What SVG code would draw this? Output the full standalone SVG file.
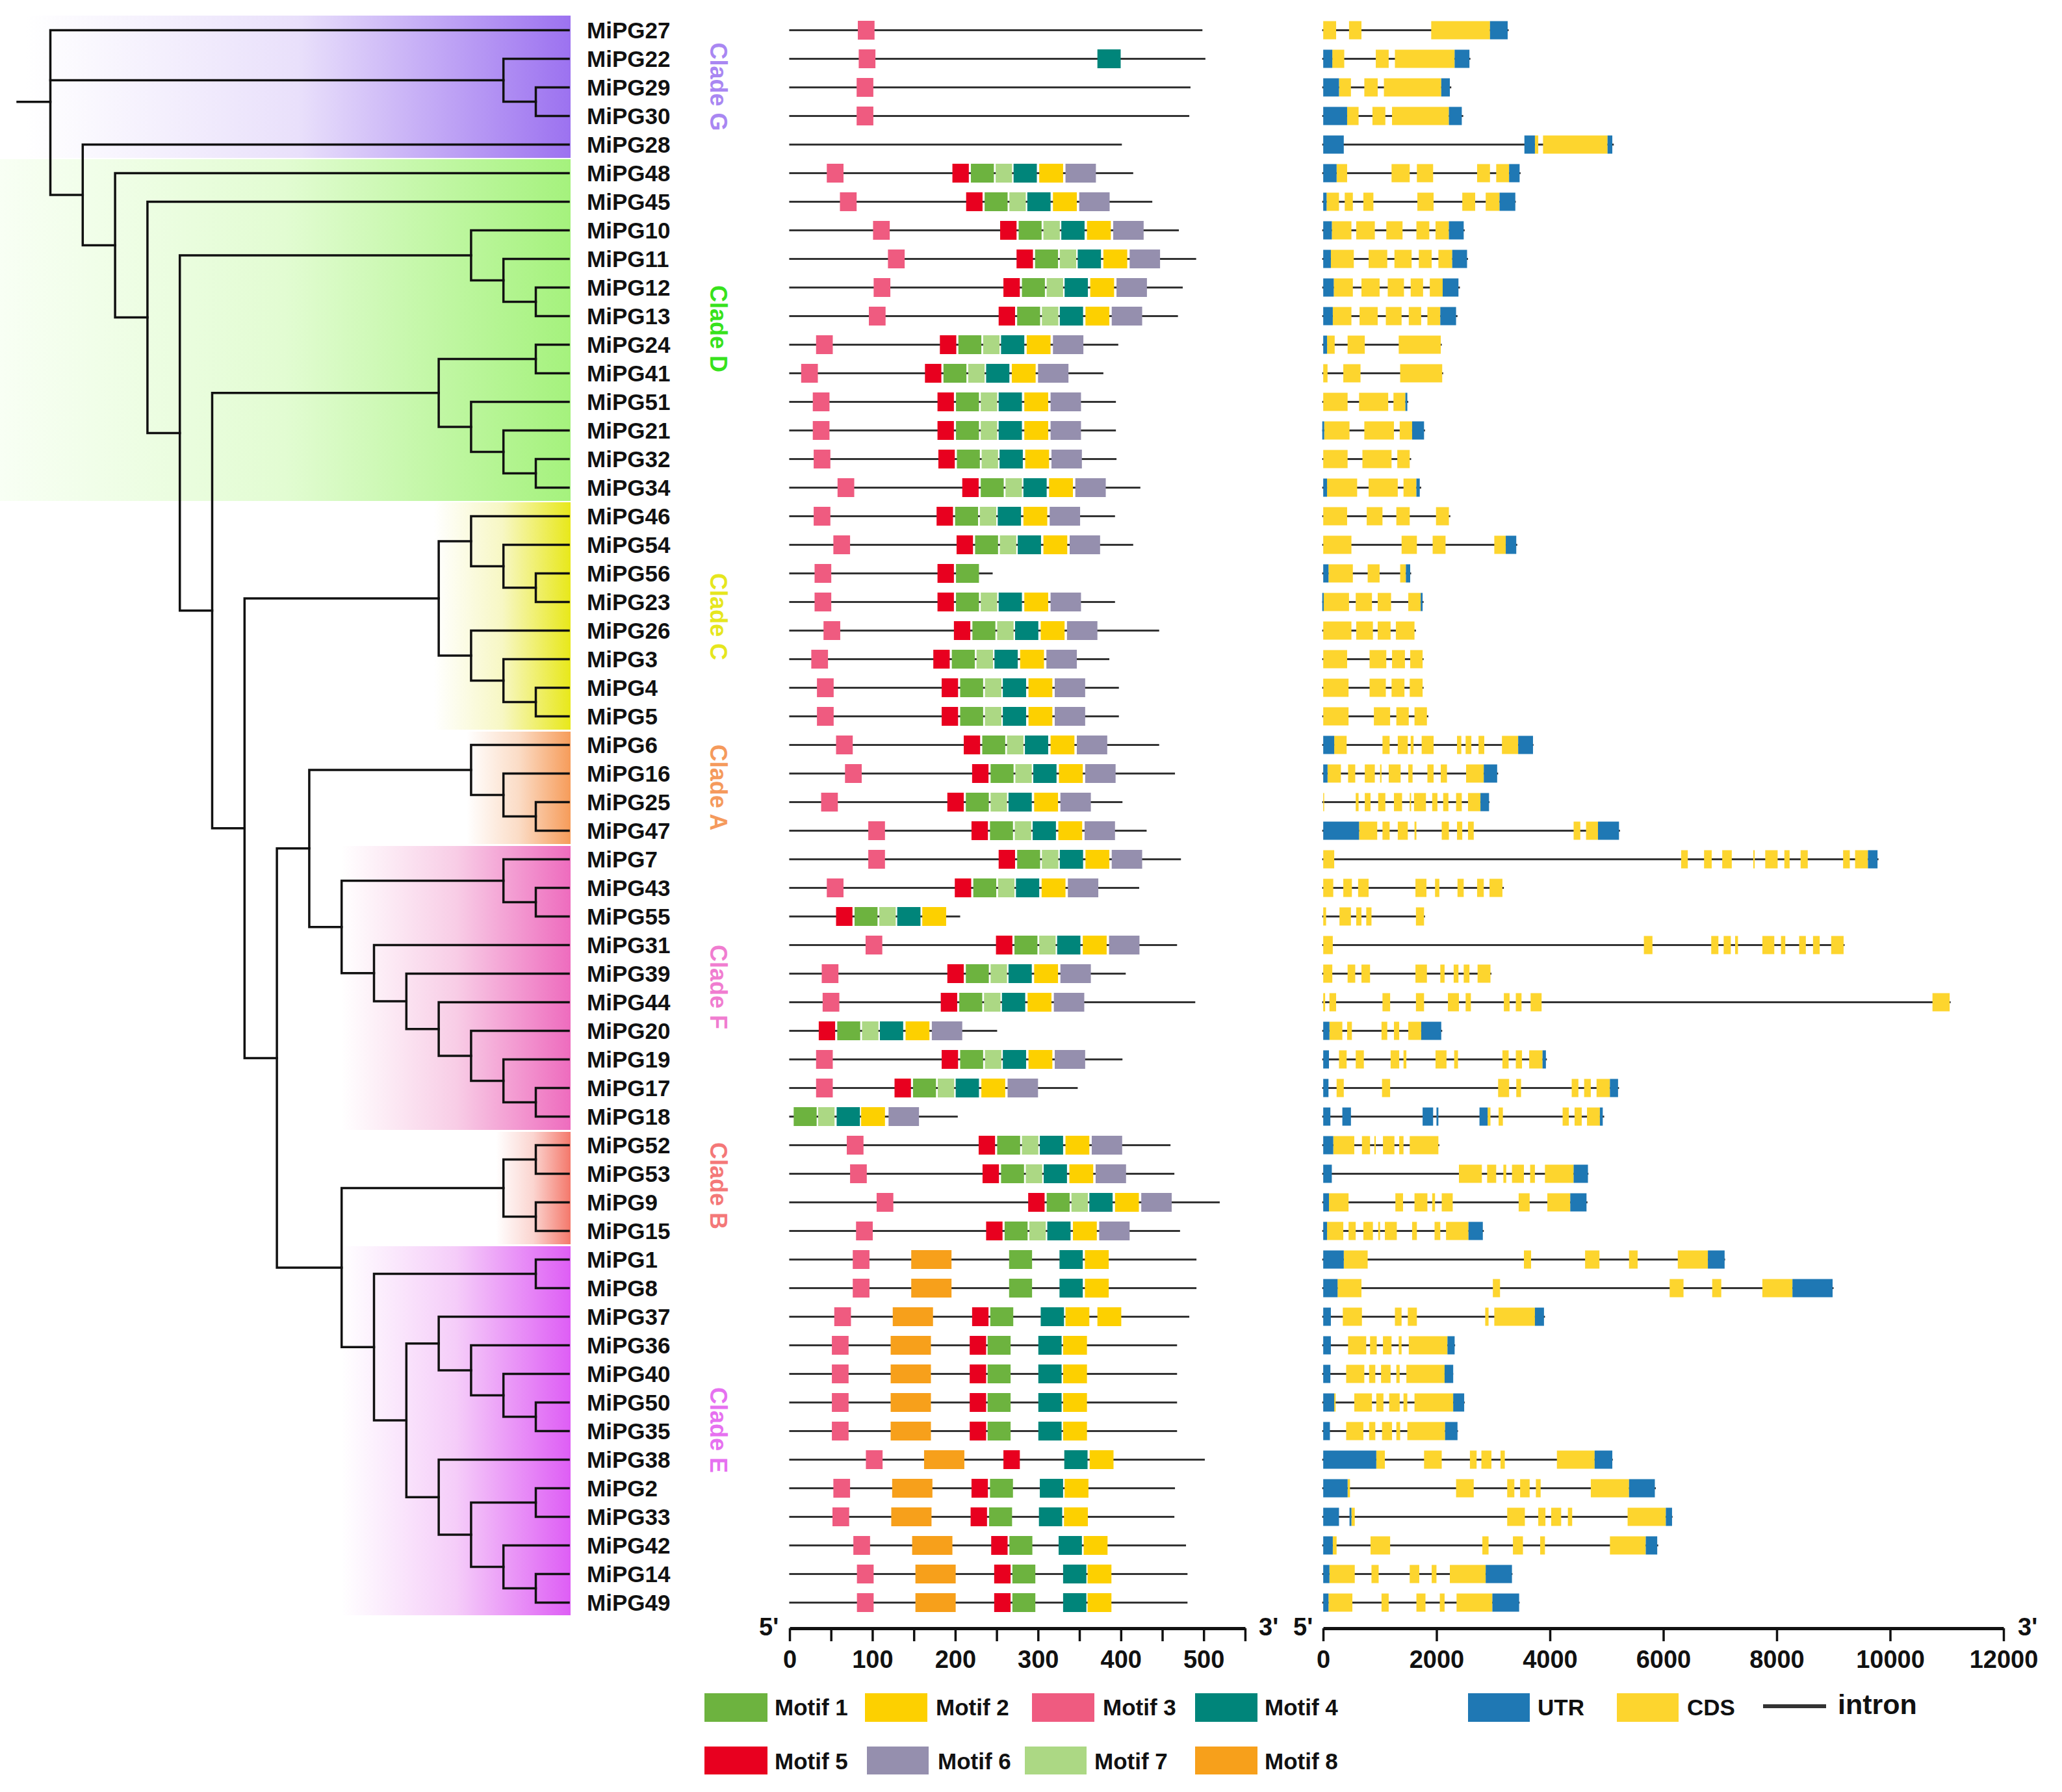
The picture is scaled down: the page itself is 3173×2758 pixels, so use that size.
<svg xmlns="http://www.w3.org/2000/svg" xmlns:xlink="http://www.w3.org/1999/xlink" width="3173" height="2758" viewBox="0 0 3173 2758">
<style>
.tr{fill:none;stroke:#111;stroke-width:3.5;stroke-linecap:square}
.nm{font-family:'Liberation Sans',Arial,sans-serif;font-weight:bold;font-size:35px;fill:#111}
.cl{font-family:'Liberation Sans',Arial,sans-serif;font-weight:bold;font-size:36px;text-anchor:middle}
.bb{stroke:#333;stroke-width:3.2;fill:none}
.gu{stroke:#1f78b4;stroke-width:28;fill:none}
.gc{stroke:#fdd52e;stroke-width:28;fill:none}
.ax{stroke:#111;fill:none}
.tk{font-family:'Liberation Sans',Arial,sans-serif;font-weight:bold;font-size:38px;text-anchor:middle;fill:#111}
.pr{font-family:'Liberation Sans',Arial,sans-serif;font-weight:bold;font-size:38px;fill:#111}
.lg{font-family:'Liberation Sans',Arial,sans-serif;font-weight:bold;font-size:35px;fill:#111}
.lgi{font-family:'Liberation Sans',Arial,sans-serif;font-weight:bold;font-size:43px;fill:#111}
</style>
<defs>
<linearGradient id="gG"><stop offset="0" stop-color="#ffffff"/><stop offset="0.5" stop-color="#e9e0fb"/><stop offset="1" stop-color="#9c72f0"/></linearGradient>
<linearGradient id="gD"><stop offset="0" stop-color="#f8fff4"/><stop offset="0.5" stop-color="#e2fcd2"/><stop offset="1" stop-color="#a5f27d"/></linearGradient>
<linearGradient id="gC"><stop offset="0" stop-color="#ffffff"/><stop offset="0.5" stop-color="#f7f7c4"/><stop offset="1" stop-color="#e8e81a"/></linearGradient>
<linearGradient id="gA"><stop offset="0" stop-color="#ffffff"/><stop offset="0.5" stop-color="#fbdcc6"/><stop offset="1" stop-color="#f69c5a"/></linearGradient>
<linearGradient id="gF"><stop offset="0" stop-color="#ffffff"/><stop offset="0.5" stop-color="#f8cde6"/><stop offset="1" stop-color="#ee6cbe"/></linearGradient>
<linearGradient id="gB"><stop offset="0" stop-color="#ffffff"/><stop offset="0.5" stop-color="#fbd5d0"/><stop offset="1" stop-color="#f4786b"/></linearGradient>
<linearGradient id="gE"><stop offset="0" stop-color="#ffffff"/><stop offset="0.5" stop-color="#f5cdf9"/><stop offset="1" stop-color="#de5ef5"/></linearGradient>
<rect id="m1" y="-14.5" width="77" height="29" fill="#6db33f"/>
<rect id="m2" y="-14.5" width="80" height="29" fill="#fdd000"/>
<rect id="m3" y="-14.5" width="56" height="29" fill="#ef5b80"/>
<rect id="m4" y="-14.5" width="78" height="29" fill="#00857a"/>
<rect id="m5" y="-14.5" width="55" height="29" fill="#e8001f"/>
<rect id="m6" y="-14.5" width="102" height="29" fill="#958fae"/>
<rect id="m7" y="-14.5" width="55" height="29" fill="#acd884"/>
<rect id="m8" y="-14.5" width="135" height="29" fill="#f7a01b"/>
<g id="blk"><use href="#m5"/><use href="#m1" x="62"/><use href="#m7" x="145"/><use href="#m4" x="205"/><use href="#m2" x="291"/><use href="#m6" x="379"/></g>
</defs>
<rect width="3173" height="2758" fill="#ffffff"/>
<g id="clade-bands">
<rect x="40" y="24" width="838" height="219" fill="url(#gG)"/>
<rect x="0" y="245" width="878" height="526" fill="url(#gD)"/>
<rect x="668" y="773" width="210" height="350" fill="url(#gC)"/>
<rect x="718" y="1126" width="160" height="173" fill="url(#gA)"/>
<rect x="525" y="1302" width="353" height="437" fill="url(#gF)"/>
<rect x="763" y="1742" width="115" height="173" fill="url(#gB)"/>
<rect x="525" y="1918" width="353" height="568" fill="url(#gE)"/>
</g>
<g id="connectors" class="tr">
<path d="M27 156.7H77.5"/><path d="M875 46.5H77.5V300H127.3"/><path d="M77.5 123.5H774.7"/>
<path d="M875 90.5H774.7V156.5H824.5"/><path d="M875 134.5H824.5V178.5H875"/>
<path d="M875 222.5H127.3V377.5H177.1"/><path d="M875 266.5H177.1V488.4H226.9"/><path d="M875 310.5H226.9V666.4H276.7"/>
<path d="M724.9 393H276.7V939.7H326.5"/><path d="M875 354.5H724.9V431.5H774.7"/><path d="M875 398.5H774.7V464.5H824.5"/><path d="M875 442.5H824.5V486.5H875"/>
<path d="M675.1 604.8H326.5V1274.7H376.3"/><path d="M824.5 552.5H675.1V657H724.9"/><path d="M875 530.5H824.5V574.5H875"/><path d="M875 618.5H724.9V695.5H774.7"/><path d="M875 662.5H774.7V728.5H824.5"/><path d="M875 706.5H824.5V750.5H875"/>
<path d="M675.1 921H376.3V1628.4H426.1"/><path d="M724.9 833H675.1V1009H724.9"/><path d="M875 794.5H724.9V871.5H774.7"/><path d="M875 838.5H774.7V904.5H824.5"/><path d="M875 882.5H824.5V926.5H875"/><path d="M875 970.5H724.9V1047.5H774.7"/><path d="M875 1014.5H774.7V1080.5H824.5"/><path d="M875 1058.5H824.5V1102.5H875"/>
<path d="M475.9 1305.8H426.1V1950.9H525.7"/><path d="M724.9 1185H475.9V1426.7H525.7"/><path d="M875 1146.5H724.9V1223.5H774.7"/><path d="M875 1190.5H774.7V1256.5H824.5"/><path d="M875 1234.5H824.5V1278.5H875"/>
<path d="M774.7 1355.5H525.7V1497.8H575.5"/><path d="M875 1322.5H774.7V1388.5H824.5"/><path d="M875 1366.5H824.5V1410.5H875"/><path d="M875 1454.5H575.5V1541.1H625.3"/><path d="M875 1498.5H625.3V1583.8H675.1"/><path d="M875 1542.5H675.1V1625H724.9"/><path d="M875 1586.5H724.9V1663.5H774.7"/><path d="M875 1630.5H774.7V1696.5H824.5"/><path d="M875 1674.5H824.5V1718.5H875"/>
<path d="M774.7 1828.5H525.7V2073.3H575.5"/><path d="M824.5 1784.5H774.7V1872.5H824.5"/><path d="M875 1762.5H824.5V1806.5H875"/><path d="M875 1850.5H824.5V1894.5H875"/>
<path d="M824.5 1960.5H575.5V2186H625.3"/><path d="M875 1938.5H824.5V1982.5H875"/><path d="M675.1 2067.8H625.3V2304.3H675.1"/><path d="M875 2026.5H675.1V2109H724.9"/><path d="M875 2070.5H724.9V2147.5H774.7"/><path d="M875 2114.5H774.7V2180.5H824.5"/><path d="M875 2158.5H824.5V2202.5H875"/>
<path d="M875 2246.5H675.1V2362H724.9"/><path d="M824.5 2312.5H724.9V2411.5H774.7"/><path d="M875 2290.5H824.5V2334.5H875"/><path d="M875 2378.5H774.7V2444.5H824.5"/><path d="M875 2422.5H824.5V2466.5H875"/>
</g>
<g id="clade-labels">
<text class="cl" x="1093" y="133.5" transform="rotate(90 1093 133.5)" fill="#a987f2">Clade G</text>
<text class="cl" x="1093" y="506" transform="rotate(90 1093 506)" fill="#37e21c">Clade D</text>
<text class="cl" x="1093" y="949" transform="rotate(90 1093 949)" fill="#e6e61e">Clade C</text>
<text class="cl" x="1093" y="1212" transform="rotate(90 1093 1212)" fill="#f59a5c">Clade A</text>
<text class="cl" x="1093" y="1519" transform="rotate(90 1093 1519)" fill="#f07dd0">Clade F</text>
<text class="cl" x="1093" y="1825" transform="rotate(90 1093 1825)" fill="#f47878">Clade B</text>
<text class="cl" x="1093" y="2201" transform="rotate(90 1093 2201)" fill="#e671f0">Clade E</text>
</g>
<g id="MiPG27" transform="translate(0 46.5)"><text class="nm" x="903" y="12.5">MiPG27</text><g transform="matrix(.4591 0 0 1 1180 0)"><path class="bb" d="M75 0H1460"/><use href="#m3" x="305"/></g><g transform="matrix(.7353 0 0 1 2020 0)"><path class="bb" d="M20 0H410"/><path class="gc" d="M22 0H49M76 0H102M248 0H371"/><path class="gu" d="M371 0H408"/></g></g>
<g id="MiPG22" transform="translate(0 90.5)"><text class="nm" x="903" y="12.5">MiPG22</text><g transform="matrix(.4591 0 0 1 1180 0)"><path class="bb" d="M75 0H1470"/><use href="#m3" x="308"/><use href="#m4" x="1108"/></g><g transform="matrix(.7353 0 0 1 2020 0)"><path class="bb" d="M20 0H330"/><path class="gc" d="M41 0H66M132 0H159M172 0H297"/><path class="gu" d="M22 0H41M297 0H328"/></g></g>
<g id="MiPG29" transform="translate(0 134.5)"><text class="nm" x="903" y="12.5">MiPG29</text><g transform="matrix(.4591 0 0 1 1180 0)"><path class="bb" d="M75 0H1420"/><use href="#m3" x="301"/></g><g transform="matrix(.7353 0 0 1 2020 0)"><path class="bb" d="M20 0H290"/><path class="gc" d="M55 0H80M108 0H136M149 0H269"/><path class="gu" d="M22 0H55M269 0H287"/></g></g>
<g id="MiPG30" transform="translate(0 178.5)"><text class="nm" x="903" y="12.5">MiPG30</text><g transform="matrix(.4591 0 0 1 1180 0)"><path class="bb" d="M75 0H1416"/><use href="#m3" x="301"/></g><g transform="matrix(.7353 0 0 1 2020 0)"><path class="bb" d="M20 0H315"/><path class="gc" d="M72 0H96M125 0H152M166 0H285"/><path class="gu" d="M22 0H72M285 0H312"/></g></g>
<g id="MiPG28" transform="translate(0 222.5)"><text class="nm" x="903" y="12.5">MiPG28</text><g transform="matrix(.4591 0 0 1 1180 0)"><path class="bb" d="M75 0H1190"/></g><g transform="matrix(.7353 0 0 1 2020 0)"><path class="bb" d="M20 0H630"/><path class="gc" d="M465 0H472M482 0H617"/><path class="gu" d="M22 0H65M443 0H465M617 0H627"/></g></g>
<g id="MiPG48" transform="translate(0 266.5)"><text class="nm" x="903" y="12.5">MiPG48</text><g transform="matrix(.4591 0 0 1 1180 0)"><path class="bb" d="M75 0H1228"/><use href="#m3" x="201"/><use href="#blk" x="622"/></g><g transform="matrix(.7353 0 0 1 2020 0)"><path class="bb" d="M20 0H435"/><path class="gc" d="M50 0H72M165 0H203M218 0H252M344 0H371M384 0H411"/><path class="gu" d="M22 0H50M411 0H433"/></g></g>
<g id="MiPG45" transform="translate(0 310.5)"><text class="nm" x="903" y="12.5">MiPG45</text><g transform="matrix(.4591 0 0 1 1180 0)"><path class="bb" d="M75 0H1292"/><use href="#m3" x="245"/><use href="#blk" x="668"/></g><g transform="matrix(.7353 0 0 1 2020 0)"><path class="bb" d="M20 0H425"/><path class="gc" d="M29 0H55M67 0H84M106 0H127M219 0H253M313 0H340M362 0H391"/><path class="gu" d="M22 0H29M391 0H424"/></g></g>
<g id="MiPG10" transform="translate(0 354.5)"><text class="nm" x="903" y="12.5">MiPG10</text><g transform="matrix(.4591 0 0 1 1180 0)"><path class="bb" d="M75 0H1381"/><use href="#m3" x="356"/><use href="#blk" x="782"/></g><g transform="matrix(.7353 0 0 1 2020 0)"><path class="bb" d="M20 0H318"/><path class="gc" d="M40 0H81M91 0H130M154 0H188M217 0H244M257 0H285"/><path class="gu" d="M22 0H40M285 0H316"/></g></g>
<g id="MiPG11" transform="translate(0 398.5)"><text class="nm" x="903" y="12.5">MiPG11</text><g transform="matrix(.4591 0 0 1 1180 0)"><path class="bb" d="M75 0H1439"/><use href="#m3" x="406"/><use href="#blk" x="837"/></g><g transform="matrix(.7353 0 0 1 2020 0)"><path class="bb" d="M20 0H325"/><path class="gc" d="M38 0H86M117 0H156M171 0H207M222 0H249M263 0H292"/><path class="gu" d="M22 0H38M292 0H323"/></g></g>
<g id="MiPG12" transform="translate(0 442.5)"><text class="nm" x="903" y="12.5">MiPG12</text><g transform="matrix(.4591 0 0 1 1180 0)"><path class="bb" d="M75 0H1394"/><use href="#m3" x="358"/><use href="#blk" x="793"/></g><g transform="matrix(.7353 0 0 1 2020 0)"><path class="bb" d="M20 0H308"/><path class="gc" d="M44 0H84M102 0H140M157 0H191M205 0H231M245 0H272"/><path class="gu" d="M22 0H44M272 0H305"/></g></g>
<g id="MiPG13" transform="translate(0 486.5)"><text class="nm" x="903" y="12.5">MiPG13</text><g transform="matrix(.4591 0 0 1 1180 0)"><path class="bb" d="M75 0H1378"/><use href="#m3" x="342"/><use href="#blk" x="777"/></g><g transform="matrix(.7353 0 0 1 2020 0)"><path class="bb" d="M20 0H303"/><path class="gc" d="M42 0H81M98 0H136M153 0H186M201 0H227M240 0H267"/><path class="gu" d="M22 0H42M267 0H300"/></g></g>
<g id="MiPG24" transform="translate(0 530.5)"><text class="nm" x="903" y="12.5">MiPG24</text><g transform="matrix(.4591 0 0 1 1180 0)"><path class="bb" d="M75 0H1178"/><use href="#m3" x="165"/><use href="#blk" x="580"/></g><g transform="matrix(.7353 0 0 1 2020 0)"><path class="bb" d="M20 0H270"/><path class="gc" d="M30 0H46M73 0H109M180 0H268"/><path class="gu" d="M22 0H30"/></g></g>
<g id="MiPG41" transform="translate(0 574.5)"><text class="nm" x="903" y="12.5">MiPG41</text><g transform="matrix(.4591 0 0 1 1180 0)"><path class="bb" d="M75 0H1128"/><use href="#m3" x="115"/><use href="#blk" x="530"/></g><g transform="matrix(.7353 0 0 1 2020 0)"><path class="bb" d="M20 0H273"/><path class="gc" d="M22 0H31M64 0H100M183 0H271"/></g></g>
<g id="MiPG51" transform="translate(0 618.5)"><text class="nm" x="903" y="12.5">MiPG51</text><g transform="matrix(.4591 0 0 1 1180 0)"><path class="bb" d="M75 0H1170"/><use href="#m3" x="154"/><use href="#blk" x="572"/></g><g transform="matrix(.7353 0 0 1 2020 0)"><path class="bb" d="M20 0H200"/><path class="gc" d="M22 0H73M97 0H158M169 0H194"/><path class="gu" d="M194 0H198"/></g></g>
<g id="MiPG21" transform="translate(0 662.5)"><text class="nm" x="903" y="12.5">MiPG21</text><g transform="matrix(.4591 0 0 1 1180 0)"><path class="bb" d="M75 0H1170"/><use href="#m3" x="154"/><use href="#blk" x="572"/></g><g transform="matrix(.7353 0 0 1 2020 0)"><path class="bb" d="M20 0H235"/><path class="gc" d="M24 0H77M108 0H170M182 0H208"/><path class="gu" d="M20 0H24M208 0H233"/></g></g>
<g id="MiPG32" transform="translate(0 706.5)"><text class="nm" x="903" y="12.5">MiPG32</text><g transform="matrix(.4591 0 0 1 1180 0)"><path class="bb" d="M75 0H1172"/><use href="#m3" x="157"/><use href="#blk" x="575"/></g><g transform="matrix(.7353 0 0 1 2020 0)"><path class="bb" d="M20 0H206"/><path class="gc" d="M22 0H73M104 0H165M177 0H203"/></g></g>
<g id="MiPG34" transform="translate(0 750.5)"><text class="nm" x="903" y="12.5">MiPG34</text><g transform="matrix(.4591 0 0 1 1180 0)"><path class="bb" d="M75 0H1252"/><use href="#m3" x="237"/><use href="#blk" x="655"/></g><g transform="matrix(.7353 0 0 1 2020 0)"><path class="bb" d="M20 0H227"/><path class="gc" d="M30 0H93M117 0H178M190 0H217"/><path class="gu" d="M22 0H30M217 0H224"/></g></g>
<g id="MiPG46" transform="translate(0 794.5)"><text class="nm" x="903" y="12.5">MiPG46</text><g transform="matrix(.4591 0 0 1 1180 0)"><path class="bb" d="M75 0H1167"/><use href="#m3" x="157"/><use href="#blk" x="569"/></g><g transform="matrix(.7353 0 0 1 2020 0)"><path class="bb" d="M20 0H288"/><path class="gc" d="M22 0H72M113 0H146M175 0H203M258 0H285"/></g></g>
<g id="MiPG54" transform="translate(0 838.5)"><text class="nm" x="903" y="12.5">MiPG54</text><g transform="matrix(.4591 0 0 1 1180 0)"><path class="bb" d="M75 0H1228"/><use href="#m3" x="223"/><use href="#blk" x="636"/></g><g transform="matrix(.7353 0 0 1 2020 0)"><path class="bb" d="M20 0H428"/><path class="gc" d="M22 0H81M186 0H218M251 0H278M380 0H404"/><path class="gu" d="M404 0H426"/></g></g>
<g id="MiPG56" transform="translate(0 882.5)"><text class="nm" x="903" y="12.5">MiPG56</text><g transform="matrix(.4591 0 0 1 1180 0)"><path class="bb" d="M75 0H757"/><use href="#m3" x="160"/><use href="#m5" x="572"/><use href="#m1" x="634"/></g><g transform="matrix(.7353 0 0 1 2020 0)"><path class="bb" d="M20 0H206"/><path class="gc" d="M33 0H84M115 0H140M183 0H195"/><path class="gu" d="M22 0H33M195 0H204"/></g></g>
<g id="MiPG23" transform="translate(0 926.5)"><text class="nm" x="903" y="12.5">MiPG23</text><g transform="matrix(.4591 0 0 1 1180 0)"><path class="bb" d="M75 0H1167"/><use href="#m3" x="160"/><use href="#blk" x="572"/></g><g transform="matrix(.7353 0 0 1 2020 0)"><path class="bb" d="M20 0H232"/><path class="gc" d="M23 0H76M90 0H124M136 0H164M200 0H226"/><path class="gu" d="M20 0H23M226 0H230"/></g></g>
<g id="MiPG26" transform="translate(0 970.5)"><text class="nm" x="903" y="12.5">MiPG26</text><g transform="matrix(.4591 0 0 1 1180 0)"><path class="bb" d="M75 0H1315"/><use href="#m3" x="190"/><use href="#blk" x="627"/></g><g transform="matrix(.7353 0 0 1 2020 0)"><path class="bb" d="M20 0H216"/><path class="gc" d="M22 0H81M91 0H126M136 0H163M174 0H213"/></g></g>
<g id="MiPG3" transform="translate(0 1014.5)"><text class="nm" x="903" y="12.5">MiPG3</text><g transform="matrix(.4591 0 0 1 1180 0)"><path class="bb" d="M75 0H1148"/><use href="#m3" x="149"/><use href="#blk" x="558"/></g><g transform="matrix(.7353 0 0 1 2020 0)"><path class="bb" d="M20 0H232"/><path class="gc" d="M22 0H72M119 0H154M166 0H193M204 0H230"/></g></g>
<g id="MiPG4" transform="translate(0 1058.5)"><text class="nm" x="903" y="12.5">MiPG4</text><g transform="matrix(.4591 0 0 1 1180 0)"><path class="bb" d="M75 0H1180"/><use href="#m3" x="168"/><use href="#blk" x="586"/></g><g transform="matrix(.7353 0 0 1 2020 0)"><path class="bb" d="M20 0H232"/><path class="gc" d="M22 0H75M119 0H153M165 0H192M203 0H230"/></g></g>
<g id="MiPG5" transform="translate(0 1102.5)"><text class="nm" x="903" y="12.5">MiPG5</text><g transform="matrix(.4591 0 0 1 1180 0)"><path class="bb" d="M75 0H1180"/><use href="#m3" x="168"/><use href="#blk" x="586"/></g><g transform="matrix(.7353 0 0 1 2020 0)"><path class="bb" d="M20 0H242"/><path class="gc" d="M22 0H75M128 0H162M175 0H201M213 0H239"/></g></g>
<g id="MiPG6" transform="translate(0 1146.5)"><text class="nm" x="903" y="12.5">MiPG6</text><g transform="matrix(.4591 0 0 1 1180 0)"><path class="bb" d="M75 0H1315"/><use href="#m3" x="232"/><use href="#blk" x="660"/></g><g transform="matrix(.7353 0 0 1 2020 0)"><path class="bb" d="M20 0H462"/><path class="gc" d="M45 0H71M146 0H161M178 0H199M205 0H211M228 0H253M302 0H311M320 0H332M347 0H359M396 0H430"/><path class="gu" d="M22 0H45M430 0H461"/></g></g>
<g id="MiPG16" transform="translate(0 1190.5)"><text class="nm" x="903" y="12.5">MiPG16</text><g transform="matrix(.4591 0 0 1 1180 0)"><path class="bb" d="M75 0H1368"/><use href="#m3" x="262"/><use href="#blk" x="688"/></g><g transform="matrix(.7353 0 0 1 2020 0)"><path class="bb" d="M20 0H388"/><path class="gc" d="M31 0H59M74 0H89M109 0H130M141 0H144M159 0H184M200 0H209M240 0H253M268 0H281M321 0H358"/><path class="gu" d="M22 0H31M358 0H386"/></g></g>
<g id="MiPG25" transform="translate(0 1234.5)"><text class="nm" x="903" y="12.5">MiPG25</text><g transform="matrix(.4591 0 0 1 1180 0)"><path class="bb" d="M75 0H1192"/><use href="#m3" x="182"/><use href="#blk" x="605"/></g><g transform="matrix(.7353 0 0 1 2020 0)"><path class="bb" d="M20 0H370"/><path class="gc" d="M22 0H24M90 0H96M109 0H121M137 0H152M170 0H187M203 0H206M212 0H237M250 0H261M273 0H284M300 0H312M325 0H351"/><path class="gu" d="M351 0H369"/></g></g>
<g id="MiPG47" transform="translate(0 1278.5)"><text class="nm" x="903" y="12.5">MiPG47</text><g transform="matrix(.4591 0 0 1 1180 0)"><path class="bb" d="M75 0H1273"/><use href="#m3" x="340"/><use href="#blk" x="686"/></g><g transform="matrix(.7353 0 0 1 2020 0)"><path class="bb" d="M20 0H643"/><path class="gc" d="M97 0H135M146 0H161M178 0H199M213 0H217M270 0H285M302 0H313M325 0H337M546 0H560M572 0H597"/><path class="gu" d="M22 0H97M597 0H641"/></g></g>
<g id="MiPG7" transform="translate(0 1322.5)"><text class="nm" x="903" y="12.5">MiPG7</text><g transform="matrix(.4591 0 0 1 1180 0)"><path class="bb" d="M75 0H1388"/><use href="#m3" x="340"/><use href="#blk" x="777"/></g><g transform="matrix(.7353 0 0 1 2020 0)"><path class="bb" d="M20 0H1184"/><path class="gc" d="M22 0H45M771 0H785M819 0H835M857 0H877M922 0H925M947 0H973M987 0H998M1021 0H1036M1110 0H1124M1135 0H1162"/><path class="gu" d="M1162 0H1182"/></g></g>
<g id="MiPG43" transform="translate(0 1366.5)"><text class="nm" x="903" y="12.5">MiPG43</text><g transform="matrix(.4591 0 0 1 1180 0)"><path class="bb" d="M75 0H1248"/><use href="#m3" x="201"/><use href="#blk" x="630"/></g><g transform="matrix(.7353 0 0 1 2020 0)"><path class="bb" d="M20 0H400"/><path class="gc" d="M22 0H43M64 0H82M95 0H117M215 0H238M256 0H265M303 0H316M344 0H358M370 0H397"/></g></g>
<g id="MiPG55" transform="translate(0 1410.5)"><text class="nm" x="903" y="12.5">MiPG55</text><g transform="matrix(.4591 0 0 1 1180 0)"><path class="bb" d="M75 0H648"/><use href="#m5" x="232"/><use href="#m1" x="294"/><use href="#m7" x="377"/><use href="#m4" x="437"/><use href="#m2" x="521"/></g><g transform="matrix(.7353 0 0 1 2020 0)"><path class="bb" d="M20 0H235"/><path class="gc" d="M22 0H28M56 0H80M91 0H102M112 0H123M216 0H233"/></g></g>
<g id="MiPG31" transform="translate(0 1454.5)"><text class="nm" x="903" y="12.5">MiPG31</text><g transform="matrix(.4591 0 0 1 1180 0)"><path class="bb" d="M75 0H1375"/><use href="#m3" x="331"/><use href="#blk" x="768"/></g><g transform="matrix(.7353 0 0 1 2020 0)"><path class="bb" d="M20 0H1113"/><path class="gc" d="M22 0H42M693 0H711M834 0H849M860 0H875M884 0H890M941 0H966M980 0H989M1018 0H1032M1047 0H1061M1085 0H1111"/></g></g>
<g id="MiPG39" transform="translate(0 1498.5)"><text class="nm" x="903" y="12.5">MiPG39</text><g transform="matrix(.4591 0 0 1 1180 0)"><path class="bb" d="M75 0H1203"/><use href="#m3" x="184"/><use href="#blk" x="605"/></g><g transform="matrix(.7353 0 0 1 2020 0)"><path class="bb" d="M20 0H374"/><path class="gc" d="M22 0H41M73 0H89M102 0H120M215 0H239M267 0H276M295 0H305M316 0H328M345 0H372"/></g></g>
<g id="MiPG44" transform="translate(0 1542.5)"><text class="nm" x="903" y="12.5">MiPG44</text><g transform="matrix(.4591 0 0 1 1180 0)"><path class="bb" d="M75 0H1436"/><use href="#m3" x="187"/><use href="#blk" x="583"/></g><g transform="matrix(.7353 0 0 1 2020 0)"><path class="bb" d="M20 0H1335"/><path class="gc" d="M22 0H26M35 0H49M146 0H162M216 0H233M283 0H306M320 0H331M400 0H412M425 0H437M456 0H479M1297 0H1333"/></g></g>
<g id="MiPG20" transform="translate(0 1586.5)"><text class="nm" x="903" y="12.5">MiPG20</text><g transform="matrix(.4591 0 0 1 1180 0)"><path class="bb" d="M75 0H772"/><use href="#blk" x="174"/></g><g transform="matrix(.7353 0 0 1 2020 0)"><path class="bb" d="M20 0H271"/><path class="gc" d="M35 0H62M72 0H82M144 0H156M170 0H181M200 0H227"/><path class="gu" d="M22 0H35M227 0H269"/></g></g>
<g id="MiPG19" transform="translate(0 1630.5)"><text class="nm" x="903" y="12.5">MiPG19</text><g transform="matrix(.4591 0 0 1 1180 0)"><path class="bb" d="M75 0H1192"/><use href="#m3" x="165"/><use href="#blk" x="586"/></g><g transform="matrix(.7353 0 0 1 2020 0)"><path class="bb" d="M20 0H490"/><path class="gc" d="M55 0H71M90 0H107M163 0H181M190 0H196M257 0H280M296 0H304M397 0H410M425 0H438M453 0H481"/><path class="gu" d="M22 0H34M481 0H488"/></g></g>
<g id="MiPG17" transform="translate(0 1674.5)"><text class="nm" x="903" y="12.5">MiPG17</text><g transform="matrix(.4591 0 0 1 1180 0)"><path class="bb" d="M75 0H1042"/><use href="#m3" x="165"/><use href="#blk" x="428"/></g><g transform="matrix(.7353 0 0 1 2020 0)"><path class="bb" d="M20 0H641"/><path class="gc" d="M50 0H65M145 0H162M388 0H411M426 0H436M542 0H556M568 0H582M594 0H622"/><path class="gu" d="M22 0H33M622 0H639"/></g></g>
<g id="MiPG18" transform="translate(0 1718.5)"><text class="nm" x="903" y="12.5">MiPG18</text><g transform="matrix(.4591 0 0 1 1180 0)"><path class="bb" d="M75 0H640"/><use href="#m1" x="90"/><use href="#m7" x="172"/><use href="#m4" x="234"/><use href="#m2" x="316"/><use href="#m6" x="408"/></g><g transform="matrix(.7353 0 0 1 2020 0)"><path class="bb" d="M20 0H610"/><path class="gc" d="M366 0H372M389 0H398M523 0H536M548 0H563M574 0H601"/><path class="gu" d="M22 0H37M62 0H80M230 0H252M259 0H263M349 0H366M601 0H607"/></g></g>
<g id="MiPG52" transform="translate(0 1762.5)"><text class="nm" x="903" y="12.5">MiPG52</text><g transform="matrix(.4591 0 0 1 1180 0)"><path class="bb" d="M75 0H1353"/><use href="#m3" x="268"/><use href="#blk" x="710"/></g><g transform="matrix(.7353 0 0 1 2020 0)"><path class="bb" d="M20 0H265"/><path class="gc" d="M43 0H87M103 0H120M129 0H132M147 0H171M181 0H190M203 0H263"/><path class="gu" d="M22 0H43"/></g></g>
<g id="MiPG53" transform="translate(0 1806.5)"><text class="nm" x="903" y="12.5">MiPG53</text><g transform="matrix(.4591 0 0 1 1180 0)"><path class="bb" d="M75 0H1366"/><use href="#m3" x="279"/><use href="#blk" x="723"/></g><g transform="matrix(.7353 0 0 1 2020 0)"><path class="bb" d="M20 0H577"/><path class="gc" d="M306 0H354M365 0H384M399 0H405M417 0H442M455 0H465M486 0H546"/><path class="gu" d="M22 0H40M546 0H576"/></g></g>
<g id="MiPG9" transform="translate(0 1850.5)"><text class="nm" x="903" y="12.5">MiPG9</text><g transform="matrix(.4591 0 0 1 1180 0)"><path class="bb" d="M75 0H1518"/><use href="#m3" x="368"/><use href="#blk" x="876"/></g><g transform="matrix(.7353 0 0 1 2020 0)"><path class="bb" d="M20 0H575"/><path class="gc" d="M34 0H75M173 0H189M213 0H240M250 0H256M270 0H293M431 0H454M491 0H539"/><path class="gu" d="M22 0H34M539 0H573"/></g></g>
<g id="MiPG15" transform="translate(0 1894.5)"><text class="nm" x="903" y="12.5">MiPG15</text><g transform="matrix(.4591 0 0 1 1180 0)"><path class="bb" d="M75 0H1385"/><use href="#m3" x="299"/><use href="#blk" x="735"/></g><g transform="matrix(.7353 0 0 1 2020 0)"><path class="bb" d="M20 0H358"/><path class="gc" d="M30 0H64M75 0H90M106 0H126M137 0H141M151 0H176M208 0H218M255 0H267M279 0H326"/><path class="gu" d="M22 0H30M326 0H356"/></g></g>
<g id="MiPG1" transform="translate(0 1938.5)"><text class="nm" x="903" y="12.5">MiPG1</text><g transform="matrix(.4591 0 0 1 1180 0)"><path class="bb" d="M75 0H1440"/><use href="#m3" x="288"/><use href="#m8" x="484"/><use href="#m1" x="812"/><use href="#m4" x="981"/><use href="#m2" x="1066"/></g><g transform="matrix(.7353 0 0 1 2020 0)"><path class="bb" d="M20 0H863"/><path class="gc" d="M65 0H115M442 0H457M570 0H600M662 0H680M764 0H827"/><path class="gu" d="M22 0H65M827 0H862"/></g></g>
<g id="MiPG8" transform="translate(0 1982.5)"><text class="nm" x="903" y="12.5">MiPG8</text><g transform="matrix(.4591 0 0 1 1180 0)"><path class="bb" d="M75 0H1440"/><use href="#m3" x="288"/><use href="#m8" x="484"/><use href="#m1" x="812"/><use href="#m4" x="981"/><use href="#m2" x="1066"/></g><g transform="matrix(.7353 0 0 1 2020 0)"><path class="bb" d="M20 0H1090"/><path class="gc" d="M52 0H102M377 0H392M747 0H776M836 0H855M941 0H1004"/><path class="gu" d="M22 0H52M1004 0H1088"/></g></g>
<g id="MiPG37" transform="translate(0 2026.5)"><text class="nm" x="903" y="12.5">MiPG37</text><g transform="matrix(.4591 0 0 1 1180 0)"><path class="bb" d="M75 0H1416"/><use href="#m3" x="226"/><use href="#m8" x="422"/><use href="#m5" x="688"/><use href="#m1" x="749"/><use href="#m4" x="918"/><use href="#m2" x="1001"/><use href="#m2" x="1108"/></g><g transform="matrix(.7353 0 0 1 2020 0)"><path class="bb" d="M20 0H486"/><path class="gc" d="M63 0H103M172 0H186M199 0H218M361 0H368M380 0H465"/><path class="gu" d="M22 0H38M465 0H484"/></g></g>
<g id="MiPG36" transform="translate(0 2070.5)"><text class="nm" x="903" y="12.5">MiPG36</text><g transform="matrix(.4591 0 0 1 1180 0)"><path class="bb" d="M75 0H1375"/><use href="#m3" x="218"/><use href="#m8" x="415"/><use href="#m5" x="680"/><use href="#m1" x="740"/><use href="#m4" x="910"/><use href="#m2" x="993"/></g><g transform="matrix(.7353 0 0 1 2020 0)"><path class="bb" d="M20 0H298"/><path class="gc" d="M74 0H112M120 0H134M147 0H165M180 0H186M201 0H282"/><path class="gu" d="M22 0H38M282 0H297"/></g></g>
<g id="MiPG40" transform="translate(0 2114.5)"><text class="nm" x="903" y="12.5">MiPG40</text><g transform="matrix(.4591 0 0 1 1180 0)"><path class="bb" d="M75 0H1375"/><use href="#m3" x="218"/><use href="#m8" x="415"/><use href="#m5" x="680"/><use href="#m1" x="740"/><use href="#m4" x="910"/><use href="#m2" x="993"/></g><g transform="matrix(.7353 0 0 1 2020 0)"><path class="bb" d="M20 0H294"/><path class="gc" d="M70 0H108M118 0H131M143 0H163M175 0H182M196 0H276"/><path class="gu" d="M22 0H37M276 0H294"/></g></g>
<g id="MiPG50" transform="translate(0 2158.5)"><text class="nm" x="903" y="12.5">MiPG50</text><g transform="matrix(.4591 0 0 1 1180 0)"><path class="bb" d="M75 0H1375"/><use href="#m3" x="218"/><use href="#m8" x="415"/><use href="#m5" x="680"/><use href="#m1" x="740"/><use href="#m4" x="910"/><use href="#m2" x="993"/></g><g transform="matrix(.7353 0 0 1 2020 0)"><path class="bb" d="M20 0H318"/><path class="gc" d="M45 0H48M87 0H124M133 0H148M160 0H182M190 0H198M213 0H294"/><path class="gu" d="M22 0H45M294 0H317"/></g></g>
<g id="MiPG35" transform="translate(0 2202.5)"><text class="nm" x="903" y="12.5">MiPG35</text><g transform="matrix(.4591 0 0 1 1180 0)"><path class="bb" d="M75 0H1375"/><use href="#m3" x="218"/><use href="#m8" x="415"/><use href="#m5" x="680"/><use href="#m1" x="740"/><use href="#m4" x="910"/><use href="#m2" x="993"/></g><g transform="matrix(.7353 0 0 1 2020 0)"><path class="bb" d="M20 0H304"/><path class="gc" d="M70 0H106M118 0H131M145 0H166M175 0H183M198 0H277"/><path class="gu" d="M22 0H36M277 0H303"/></g></g>
<g id="MiPG38" transform="translate(0 2246.5)"><text class="nm" x="903" y="12.5">MiPG38</text><g transform="matrix(.4591 0 0 1 1180 0)"><path class="bb" d="M75 0H1468"/><use href="#m3" x="332"/><use href="#m8" x="527"/><use href="#m5" x="793"/><use href="#m4" x="997"/><use href="#m2" x="1082"/></g><g transform="matrix(.7353 0 0 1 2020 0)"><path class="bb" d="M20 0H628"/><path class="gc" d="M133 0H151M233 0H270M329 0H343M353 0H374M393 0H402M511 0H590"/><path class="gu" d="M22 0H133M590 0H627"/></g></g>
<g id="MiPG2" transform="translate(0 2290.5)"><text class="nm" x="903" y="12.5">MiPG2</text><g transform="matrix(.4591 0 0 1 1180 0)"><path class="bb" d="M75 0H1368"/><use href="#m3" x="223"/><use href="#m8" x="420"/><use href="#m5" x="686"/><use href="#m1" x="748"/><use href="#m4" x="915"/><use href="#m2" x="998"/></g><g transform="matrix(.7353 0 0 1 2020 0)"><path class="bb" d="M20 0H718"/><path class="gc" d="M73 0H78M300 0H337M407 0H422M434 0H454M467 0H477M582 0H662"/><path class="gu" d="M22 0H73M662 0H716"/></g></g>
<g id="MiPG33" transform="translate(0 2334.5)"><text class="nm" x="903" y="12.5">MiPG33</text><g transform="matrix(.4591 0 0 1 1180 0)"><path class="bb" d="M75 0H1366"/><use href="#m3" x="220"/><use href="#m8" x="417"/><use href="#m5" x="683"/><use href="#m1" x="745"/><use href="#m4" x="912"/><use href="#m2" x="996"/></g><g transform="matrix(.7353 0 0 1 2020 0)"><path class="bb" d="M20 0H753"/><path class="gc" d="M81 0H88M407 0H444M472 0H487M499 0H520M534 0H543M659 0H739"/><path class="gu" d="M22 0H55M77 0H81M739 0H752"/></g></g>
<g id="MiPG42" transform="translate(0 2378.5)"><text class="nm" x="903" y="12.5">MiPG42</text><g transform="matrix(.4591 0 0 1 1180 0)"><path class="bb" d="M75 0H1405"/><use href="#m3" x="290"/><use href="#m8" x="487"/><use href="#m5" x="752"/><use href="#m1" x="813"/><use href="#m4" x="978"/><use href="#m2" x="1062"/></g><g transform="matrix(.7353 0 0 1 2020 0)"><path class="bb" d="M20 0H723"/><path class="gc" d="M42 0H50M121 0H162M355 0H368M419 0H440M476 0H486M622 0H697"/><path class="gu" d="M22 0H42M697 0H721"/></g></g>
<g id="MiPG14" transform="translate(0 2422.5)"><text class="nm" x="903" y="12.5">MiPG14</text><g transform="matrix(.4591 0 0 1 1180 0)"><path class="bb" d="M75 0H1410"/><use href="#m3" x="302"/><use href="#m8" x="498"/><use href="#m5" x="762"/><use href="#m1" x="823"/><use href="#m4" x="993"/><use href="#m2" x="1075"/></g><g transform="matrix(.7353 0 0 1 2020 0)"><path class="bb" d="M20 0H418"/><path class="gc" d="M35 0H88M123 0H138M203 0H223M249 0H259M287 0H362"/><path class="gu" d="M22 0H35M362 0H417"/></g></g>
<g id="MiPG49" transform="translate(0 2466.5)"><text class="nm" x="903" y="12.5">MiPG49</text><g transform="matrix(.4591 0 0 1 1180 0)"><path class="bb" d="M75 0H1410"/><use href="#m3" x="302"/><use href="#m8" x="498"/><use href="#m5" x="762"/><use href="#m1" x="823"/><use href="#m4" x="993"/><use href="#m2" x="1075"/></g><g transform="matrix(.7353 0 0 1 2020 0)"><path class="bb" d="M20 0H433"/><path class="gc" d="M33 0H83M144 0H159M217 0H236M266 0H276M301 0H376"/><path class="gu" d="M22 0H33M376 0H432"/></g></g>
<g id="axes">
<path class="ax" stroke-width="5" d="M1215.5 2506.5H1916.5M2036.5 2506.5H3083.5"/>
<path class="ax" stroke-width="3.5" d="M1215.5 2506V2526M1279.2 2506V2526M1342.9 2506V2526M1406.7 2506V2526M1470.4 2506V2526M1534.1 2506V2526M1597.8 2506V2526M1661.5 2506V2526M1725.3 2506V2526M1789 2506V2526M1852.7 2506V2526M1916.4 2506V2526M2036.5 2506V2526M2211 2506V2526M2385.5 2506V2526M2560 2506V2526M2734.5 2506V2526M2909 2506V2526M3083.5 2506V2526"/>
<text class="pr" x="1168" y="2517">5'</text><text class="pr" x="1937" y="2517">3'</text><text class="pr" x="1990" y="2517">5'</text><text class="pr" x="3105" y="2517">3'</text>
<text class="tk" x="1215.5" y="2567">0</text><text class="tk" x="1342.9" y="2567">100</text><text class="tk" x="1470.4" y="2567">200</text><text class="tk" x="1597.8" y="2567">300</text><text class="tk" x="1725.3" y="2567">400</text><text class="tk" x="1852.7" y="2567">500</text>
<text class="tk" x="2036.5" y="2567">0</text><text class="tk" x="2211" y="2567">2000</text><text class="tk" x="2385.5" y="2567">4000</text><text class="tk" x="2560" y="2567">6000</text><text class="tk" x="2734.5" y="2567">8000</text><text class="tk" x="2909" y="2567">10000</text><text class="tk" x="3083.5" y="2567">12000</text>
</g>
<g id="legend">
<rect x="1084" y="2606" width="97" height="44" fill="#6db33f"/><text class="lg" x="1192" y="2640">Motif 1</text>
<rect x="1331" y="2606" width="96" height="44" fill="#fdd000"/><text class="lg" x="1440" y="2640">Motif 2</text>
<rect x="1588" y="2606" width="96" height="44" fill="#ef5b80"/><text class="lg" x="1697" y="2640">Motif 3</text>
<rect x="1839" y="2606" width="96" height="44" fill="#00857a"/><text class="lg" x="1946" y="2640">Motif 4</text>
<rect x="1084" y="2688" width="97" height="43" fill="#e8001f"/><text class="lg" x="1192" y="2723">Motif 5</text>
<rect x="1334" y="2688" width="95" height="43" fill="#958fae"/><text class="lg" x="1443" y="2723">Motif 6</text>
<rect x="1577" y="2688" width="95" height="43" fill="#acd884"/><text class="lg" x="1684" y="2723">Motif 7</text>
<rect x="1839" y="2688" width="96" height="43" fill="#f7a01b"/><text class="lg" x="1946" y="2723">Motif 8</text>
<rect x="2259" y="2606" width="95" height="44" fill="#1f78b4"/><text class="lg" x="2366" y="2640">UTR</text>
<rect x="2488" y="2606" width="95" height="44" fill="#fdd52e"/><text class="lg" x="2596" y="2640">CDS</text>
<path d="M2713 2626H2810" stroke="#333" stroke-width="6"/><text class="lgi" x="2828" y="2638">intron</text>
</g>
</svg>
